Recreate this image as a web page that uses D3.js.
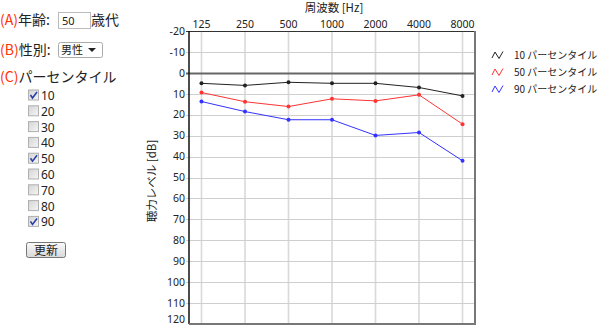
<!DOCTYPE html>
<html>
<head>
<meta charset="utf-8">
<script src="https://cdn.jsdelivr.net/npm/d3@7"></script>
<style>
body { margin: 0; background: #fff; }
text { font-family: "Noto Sans", "Noto Sans CJK JP", sans-serif; fill: #222; }
.jp { font-family: "Noto Sans CJK JP", sans-serif; }
</style>
</head>
<body>
<svg id="chart" width="600" height="327"></svg>
<script>
var freqs = ["125", "250", "500", "1000", "2000", "4000", "8000"];
var yTicks = [-20, -10, 0, 10, 20, 30, 40, 50, 60, 70, 80, 90, 100, 110, 120];
var p10 = [5, 6, 4.5, 5, 5, 7, 11];
var p50 = [9.4, 13.8, 16.1, 12.4, 13.4, 10.5, 24.5];
var p90 = [13.7, 18.5, 22.4, 22.4, 29.9, 28.5, 42];
var seriesNames = ["10 パーセンタイル", "50 パーセンタイル", "90 パーセンタイル"];
var seriesColors = ["#222", "#ff3333", "#3333ff"];
var percentiles = ["10", "20", "30", "40", "50", "60", "70", "80", "90"];
var checked = ["10", "50", "90"];

var svg = d3.select("#chart");

//--- left form panel
var form = svg.append("g").attr("class", "form");
function label(y, letter, txt) {
	var t = form.append("text").attr("x", 0).attr("y", y).style("font-size", "14px").attr("class", "jp");
	t.append("tspan").style("fill", "#ff3300").text("(" + letter + ")");
	t.append("tspan").text(txt);
}
label(25, "A", "年齢:");
label(55, "B", "性別:");
label(82, "C", "パーセンタイル");

// age input
form.append("rect").attr("x", 58.5).attr("y", 12.5).attr("width", 32).attr("height", 16)
	.attr("fill", "#fff").attr("stroke", "#bbb");
form.append("text").attr("x", 62).attr("y", 25).style("font-size", "11px").text("50");
form.append("text").attr("class", "jp").attr("x", 91).attr("y", 25).style("font-size", "14px").text("歳代");

// sex select
form.append("rect").attr("x", 58.5).attr("y", 42.5).attr("width", 44).attr("height", 15)
	.attr("fill", "#fff").attr("stroke", "#aaa").attr("rx", 2);
form.append("text").attr("class", "jp").attr("x", 61).attr("y", 54).style("font-size", "11px").text("男性");
form.append("path").attr("d", "M88,48 L96,48 L92,52 Z").attr("fill", "#222");

// checkboxes
var grad = svg.append("defs").append("linearGradient").attr("id", "cb").attr("x1", 0).attr("y1", 0).attr("x2", 1).attr("y2", 1);
grad.append("stop").attr("offset", "0").attr("stop-color", "#d4d4d4");
grad.append("stop").attr("offset", "1").attr("stop-color", "#f6f6f6");

var rows = form.selectAll("g.cbrow").data(percentiles).enter().append("g")
	.attr("class", "cbrow")
	.attr("transform", function(d, i) { return "translate(28," + (89.5 + i * 15.8) + ")"; });
rows.append("rect").attr("x", 0.5).attr("y", 0.5).attr("width", 10).attr("height", 10)
	.attr("fill", "url(#cb)").attr("stroke", "#b0b0b0");
rows.filter(function(d) { return checked.indexOf(d) >= 0; }).append("path")
	.attr("d", "M2.5,5.5 L4.5,8.5 L9,2.5").attr("fill", "none").attr("stroke", "#2a3fa8").attr("stroke-width", 1.6);
rows.append("text").attr("x", 13).attr("y", 10.5).style("font-size", "12px").text(function(d) { return d; });

// update button
var btnGrad = svg.select("defs").append("linearGradient").attr("id", "btn").attr("x1", 0).attr("y1", 0).attr("x2", 0).attr("y2", 1);
btnGrad.append("stop").attr("offset", "0").attr("stop-color", "#fafafa");
btnGrad.append("stop").attr("offset", "1").attr("stop-color", "#d8d8d8");
form.append("rect").attr("x", 26.5).attr("y", 242.5).attr("width", 39).attr("height", 15).attr("rx", 2)
	.attr("fill", "url(#btn)").attr("stroke", "#777");
form.append("text").attr("class", "jp").attr("x", 46).attr("y", 254.5).attr("text-anchor", "middle")
	.style("font-size", "12px").text("更新");

//--- chart
var pLeft = 189, pRight = 475, pTop = 31, pBottom = 324;
var x = d3.scalePoint().domain(freqs).range([pLeft, pRight]).padding(0.287);
var y = d3.scaleLinear().domain([-20, 120]).range([pTop, pBottom]);

var plot = svg.append("g").attr("class", "plot");

// grid
plot.selectAll("line.vgrid").data(freqs).enter().append("line")
	.attr("class", "vgrid")
	.attr("x1", function(d) { return x(d); }).attr("x2", function(d) { return x(d); })
	.attr("y1", pTop).attr("y2", pBottom)
	.attr("stroke", "#d9d9d9").attr("stroke-width", 1.6);
plot.selectAll("line.hgrid").data(yTicks.slice(1, -1)).enter().append("line")
	.attr("class", "hgrid")
	.attr("x1", pLeft - 3).attr("x2", pRight)
	.attr("y1", function(d) { return Math.round(y(d)) + 0.5; }).attr("y2", function(d) { return Math.round(y(d)) + 0.5; })
	.attr("stroke", function(d) { return d == 0 ? "#666" : "#cfcfcf"; })
	.attr("stroke-width", function(d) { return d == 0 ? 2 : 1; });

// frame
plot.append("line").attr("x1", pLeft - 3).attr("x2", pRight).attr("y1", pTop + 0.5).attr("y2", pTop + 0.5).attr("stroke", "#333");
plot.append("line").attr("x1", pLeft).attr("x2", pLeft).attr("y1", pTop).attr("y2", pBottom).attr("stroke", "#111").attr("stroke-width", 1.5);
plot.append("line").attr("x1", pRight).attr("x2", pRight).attr("y1", pTop).attr("y2", pBottom + 1).attr("stroke", "#777").attr("stroke-width", 2);
plot.append("line").attr("x1", pLeft).attr("x2", pRight + 1).attr("y1", pBottom).attr("y2", pBottom).attr("stroke", "#777").attr("stroke-width", 2);

// tick labels
plot.selectAll("text.xt").data(freqs).enter().append("text")
	.attr("class", "xt").attr("x", function(d) { return x(d); }).attr("y", 27.5)
	.attr("text-anchor", "middle").style("font-size", "10.5px")
	.text(function(d) { return d; });
plot.selectAll("text.yt").data(yTicks).enter().append("text")
	.attr("class", "yt").attr("x", 185).attr("y", function(d) { return Math.min(y(d), 319.5); })
	.attr("dy", "0.36em").attr("text-anchor", "end").style("font-size", "10.5px")
	.text(function(d) { return d; });

// axis titles
plot.append("text").attr("class", "jp").attr("x", 334).attr("y", 12).attr("text-anchor", "middle")
	.style("font-size", "11.5px").text("周波数 [Hz]");
plot.append("text").attr("class", "jp").attr("transform", "translate(156,181) rotate(-90)")
	.attr("text-anchor", "middle").style("font-size", "11.5px").text("聴力レベル [dB]");

// series
var series = [p10, p50, p90];
var line = d3.line().x(function(d, i) { return x(freqs[i]); }).y(function(d) { return y(d); });
series.forEach(function(values, s) {
	var g = plot.append("g").attr("class", "series");
	g.append("path").datum(values).attr("d", line)
		.attr("fill", "none").attr("stroke", seriesColors[s]).attr("stroke-width", 1);
	g.selectAll("circle").data(values).enter().append("circle")
		.attr("cx", function(d, i) { return x(freqs[i]); })
		.attr("cy", function(d) { return y(d); })
		.attr("r", 2).attr("fill", seriesColors[s]);
});

// legend
var legend = svg.append("g").attr("class", "legend");
var items = legend.selectAll("g").data(seriesNames).enter().append("g")
	.attr("transform", function(d, i) { return "translate(492," + (55 + i * 17) + ")"; });
items.append("path").attr("d", "M0,3 L3,-3 L7,3.5 L11,-3.5")
	.attr("fill", "none").attr("stroke", function(d, i) { return seriesColors[i]; }).attr("stroke-width", 1);
items.append("text").attr("class", "jp").attr("x", 22).attr("y", 0).attr("dy", "0.36em")
	.style("font-size", "10px").text(function(d) { return d; });
</script>
</body>
</html>
